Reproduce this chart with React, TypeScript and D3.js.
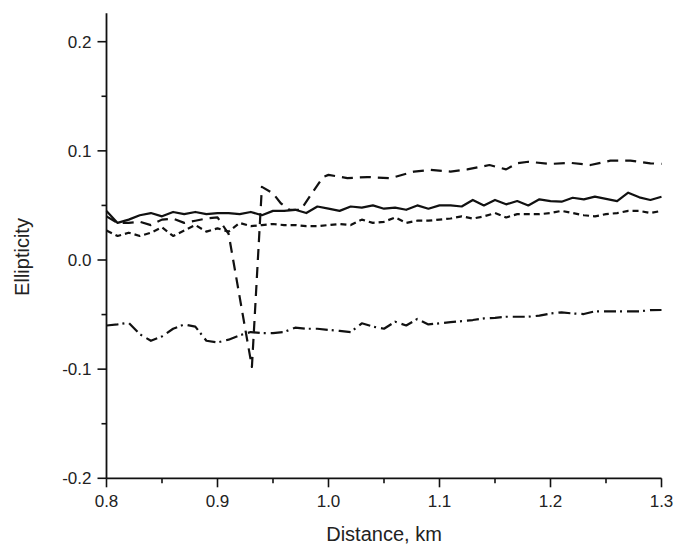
import React from "react";
import * as d3 from "d3";

const W = 674;
const H = 545;

const xTicks = [0.8, 0.9, 1.0, 1.1, 1.2, 1.3];
const xMinor = [0.85, 0.95, 1.05, 1.15, 1.25];
const yTicks = [-0.2, -0.1, 0.0, 0.1, 0.2];
const yMinor = [-0.15, -0.05, 0.05, 0.15];

const gridX = [
  0.8, 0.81, 0.82, 0.83, 0.84, 0.85, 0.86, 0.87, 0.88, 0.89, 0.9, 0.91, 0.92, 0.93, 0.94, 0.95, 0.96,
  0.97, 0.98, 0.99, 1.0, 1.01, 1.02, 1.03, 1.04, 1.05, 1.06, 1.07, 1.08, 1.09, 1.1, 1.11, 1.12, 1.13,
  1.14, 1.15, 1.16, 1.17, 1.18, 1.19, 1.2, 1.21, 1.22, 1.23, 1.24, 1.25, 1.26, 1.27, 1.28, 1.29, 1.3,
];

const solidY = [
  0.045, 0.034, 0.037, 0.041, 0.043, 0.04, 0.044, 0.042, 0.044, 0.042, 0.043, 0.043, 0.042, 0.044,
  0.041, 0.045, 0.045, 0.046, 0.043, 0.049, 0.047, 0.045, 0.049, 0.048, 0.05, 0.047, 0.048, 0.046,
  0.05, 0.047, 0.05, 0.05, 0.049, 0.055, 0.05, 0.055, 0.051, 0.054, 0.05, 0.0556, 0.054, 0.0534,
  0.057, 0.0556, 0.058, 0.056, 0.054, 0.0617, 0.0574, 0.055, 0.058,
];

const shortDashY = [
  0.027, 0.022, 0.025, 0.022, 0.025, 0.03, 0.022, 0.027, 0.032, 0.026, 0.029, 0.026, 0.034, 0.031,
  0.032, 0.033, 0.032, 0.032, 0.031, 0.031, 0.032, 0.033, 0.032, 0.037, 0.034, 0.035, 0.039, 0.034,
  0.036, 0.036, 0.037, 0.038, 0.04, 0.038, 0.04, 0.043, 0.039, 0.042, 0.042, 0.042, 0.043, 0.045,
  0.043, 0.041, 0.04, 0.042, 0.043, 0.045, 0.045, 0.043, 0.045,
];

const dashDotY = [
  -0.06, -0.059, -0.0575, -0.068, -0.074, -0.07, -0.063, -0.059, -0.061, -0.074, -0.0755, -0.073,
  -0.069, -0.066, -0.067, -0.067, -0.066, -0.062, -0.063, -0.063, -0.064, -0.065, -0.066, -0.058,
  -0.061, -0.063, -0.0565, -0.06, -0.054, -0.059, -0.058, -0.057, -0.056, -0.055, -0.0535, -0.053,
  -0.052, -0.052, -0.052, -0.051, -0.049, -0.048, -0.049, -0.0495, -0.047, -0.047, -0.047, -0.047,
  -0.047, -0.046, -0.0458,
];

const longDashX = [
  0.8, 0.81, 0.82, 0.83, 0.84, 0.85, 0.86, 0.87, 0.88, 0.89, 0.9, 0.91, 0.931, 0.94, 0.95, 0.957,
  0.965, 0.975, 0.983, 0.995, 1.0, 1.017, 1.035, 1.056, 1.07, 1.077, 1.092, 1.11, 1.125, 1.145, 1.16,
  1.17, 1.18, 1.2, 1.218, 1.236, 1.254, 1.272, 1.29, 1.3,
];
const longDashY = [
  0.04, 0.034, 0.034, 0.035, 0.032, 0.037, 0.038, 0.034, 0.036, 0.038, 0.039, 0.024, -0.098, 0.067,
  0.061, 0.052, 0.046, 0.046, 0.058, 0.076, 0.078, 0.075, 0.076, 0.075, 0.079, 0.081, 0.0825, 0.081,
  0.083, 0.087, 0.083, 0.0886, 0.09, 0.088, 0.089, 0.087, 0.091, 0.091, 0.0886, 0.088,
];

const x = d3.scaleLinear().domain([0.8, 1.3]).range([106.5, 661.5]);
const y = d3.scaleLinear().domain([-0.2, 0.2]).range([478.3, 41.7]);

const line = d3
  .line<[number, number]>()
  .x((d) => x(d[0]))
  .y((d) => y(d[1]));

const zip = (xs: number[], ys: number[]): [number, number][] => xs.map((v, i) => [v, ys[i]]);

const series = [
  { pts: zip(gridX, solidY), dash: "none" },
  { pts: zip(gridX, shortDashY), dash: "6,4" },
  { pts: zip(longDashX, longDashY), dash: "11,7" },
  { pts: zip(gridX, dashDotY), dash: "12,4,2,5" },
];

const font = "Arial, 'Liberation Sans', Helvetica, sans-serif";
const textColor = "#222";

export default function App() {
  const x0 = x(0.8);
  const yBottom = y(-0.2);
  const yTop = y(0.226);
  return (
    <svg
      width={W}
      height={H}
      style={{ position: "absolute", left: 0, top: 0, background: "#fff" }}
      fontFamily={font}
    >
      {series.map((s, i) => (
        <path
          key={i}
          d={line(s.pts) || ""}
          fill="none"
          stroke="#111"
          strokeWidth={2.2}
          strokeDasharray={s.dash}
          strokeLinejoin="round"
        />
      ))}
      <line x1={x0} x2={x0} y1={yTop} y2={yBottom} stroke="#111" strokeWidth={1.8} />
      <line x1={x0} x2={x(1.3)} y1={yBottom} y2={yBottom} stroke="#111" strokeWidth={1.8} />
      {yTicks.map((t) => (
        <g key={"yt" + t}>
          <line x1={x0 - 9} x2={x0} y1={y(t)} y2={y(t)} stroke="#111" strokeWidth={1.6} />
          <text
            x={x0 - 15}
            y={y(t)}
            dy="0.36em"
            textAnchor="end"
            fontSize={17}
            fill={textColor}
          >
            {t.toFixed(1)}
          </text>
        </g>
      ))}
      {yMinor.map((t) => (
        <line key={"ym" + t} x1={x0 - 5} x2={x0} y1={y(t)} y2={y(t)} stroke="#111" strokeWidth={1.6} />
      ))}
      {xTicks.map((t) => (
        <g key={"xt" + t}>
          <line x1={x(t)} x2={x(t)} y1={yBottom} y2={yBottom + 9} stroke="#111" strokeWidth={1.6} />
          <text x={x(t)} y={507} textAnchor="middle" fontSize={17} fill={textColor}>
            {t.toFixed(1)}
          </text>
        </g>
      ))}
      {xMinor.map((t) => (
        <line key={"xm" + t} x1={x(t)} x2={x(t)} y1={yBottom} y2={yBottom + 5} stroke="#111" strokeWidth={1.6} />
      ))}
      <text x={(x(0.8) + x(1.3)) / 2} y={541} textAnchor="middle" fontSize={20} fill={textColor}>
        Distance, km
      </text>
      <text
        transform={`translate(29, 257) rotate(-90)`}
        textAnchor="middle"
        fontSize={20}
        fill={textColor}
      >
        Ellipticity
      </text>
    </svg>
  );
}
